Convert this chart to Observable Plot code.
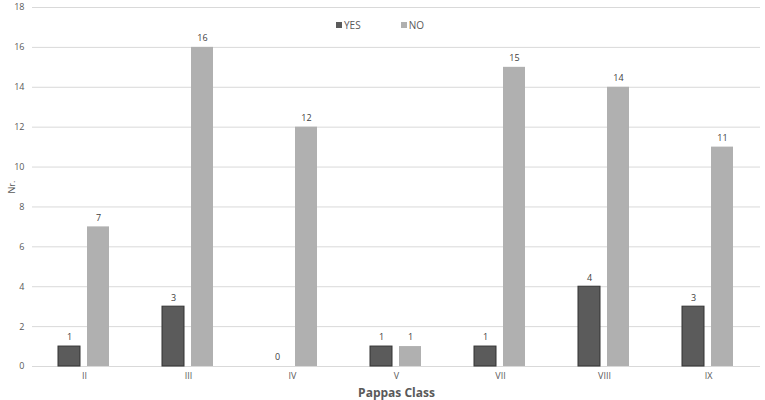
<!DOCTYPE html>
<html><head><meta charset="utf-8">
<script src="https://cdn.jsdelivr.net/npm/d3@7"></script>
<script src="https://cdn.jsdelivr.net/npm/@observablehq/plot@0.6"></script>
<style>
body{margin:0;background:#fff;font-family:"Open Sans",sans-serif;}
#wrap{position:relative;width:765px;height:400px;}
#legend{position:absolute;top:18px;left:336px;font-size:10px;color:#595959;display:flex;gap:0;}
#legend span.sw{display:inline-block;width:6px;height:6px;margin-right:2px;vertical-align:middle;}
#legend .item{margin-right:40px;display:flex;align-items:center;}
</style></head>
<body><div id="wrap"><div id="legend"></div></div>
<script>
const classes = ["II","III","IV","V","VII","VIII","IX"];
const responses = ["YES","NO"];
const yesValues = [1,3,0,1,1,4,3];
const noValues = [7,16,12,1,15,14,11];
const yTicks = [0,2,4,6,8,10,12,14,16,18];
const colors = ["#5b5b5b","#b0b0b0"];

const data = classes.flatMap((c,i)=>[
  {cls:c, resp:"YES", n:yesValues[i]},
  {cls:c, resp:"NO", n:noValues[i]}
]);

const chart = Plot.plot({
  width:765, height:400,
  marginLeft:30, marginRight:3, marginTop:7, marginBottom:34,
  style:{fontFamily:"Open Sans, sans-serif", fontSize:"9px", color:"#595959", background:"#fff"},
  fx:{domain:classes, padding:0, label:"Pappas Class", labelAnchor:"center", labelOffset:30, tickSize:0, tickPadding:6},
  x:{domain:responses, paddingInner:0.233, paddingOuter:0.86, axis:null},
  y:{domain:[0,18], ticks:yTicks, label:"Nr.", labelArrow:false, labelAnchor:"center", labelOffset:24, tickSize:0, tickPadding:8},
  color:{domain:responses, range:colors},
  marks:[
    Plot.gridY(yTicks,{stroke:"#d9d9d9", strokeOpacity:1, strokeWidth:1}),
    Plot.barY(data,{fx:"cls", x:"resp", y:"n", fill:"resp", stroke:d=>d.resp==="YES"?"#333":"none", strokeWidth:1}),
    Plot.text(data,{fx:"cls", x:"resp", y:"n", text:"n", dy:-9, fill:"#404040", fontSize:9})
  ]
});
document.getElementById("wrap").appendChild(chart);
chart.querySelectorAll("text").forEach(t=>{
  if(t.textContent.startsWith("Pappas Class")){t.textContent="Pappas Class";t.setAttribute("font-weight","bold");t.setAttribute("font-size","12px");}
  if(t.textContent.startsWith("Nr.")){t.textContent="Nr.";t.setAttribute("font-size","9px");}
});
const lg = document.getElementById("legend");
responses.forEach((r,i)=>{
  const it=document.createElement("div");it.className="item";
  it.innerHTML=`<span class="sw" style="background:${colors[i]}"></span>${r}`;
  lg.appendChild(it);
});
</script></body></html>
